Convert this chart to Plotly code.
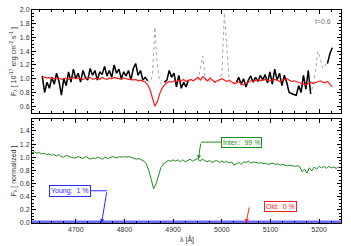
import numpy as np
import plotly.graph_objects as go

# ---------------- data ----------------
obs_flux = [1.04, 0.80, 0.95, 0.86, 1.02, 0.92, 1.08, 0.96, 0.76, 1.00, 0.90, 1.10, 0.95, 1.14, 1.00, 1.08,
            0.95, 1.12, 1.02, 0.98, 1.15, 1.05, 1.12, 0.98, 1.10, 1.06, 1.18, 1.04, 1.12, 1.02, 1.20, 1.08,
            1.14, 1.00, 1.10, 1.04,
            1.12, 0.98, 1.15, 1.22, 1.05, 1.12, 0.98, 1.02, 0.97,
            0.95, 1.05, 1.75, 1.20, 0.95, 0.92, 0.95,
            0.98, 1.12, 1.02, 1.08, 0.88, 1.05, 0.86, 0.95, 0.88, 0.98,
            0.98, 0.95, 1.00, 0.98, 1.15, 1.33, 1.00, 0.94, 0.97, 0.95, 0.96, 0.93, 0.98, 1.10, 1.96, 1.50,
            0.96, 0.92, 0.94,
            0.95, 1.02, 0.92, 1.00, 0.88, 0.98, 1.04, 0.95, 1.02, 0.96, 1.05, 0.98, 1.06, 0.94, 1.10, 0.92,
            1.14, 0.98, 1.08, 0.90, 1.05, 0.95, 0.80, 0.78, 0.77, 0.76, 0.90, 0.80, 1.05, 0.85, 1.12, 0.78,
            0.90, 1.10, 1.40, 1.30, 1.15, 1.20,
            1.22, 1.36, 1.45]

model_flux = [1.03, 1.02, 1.01, 1.02, 1.00, 1.01, 1.00, 1.01, 0.99, 1.00, 1.01, 0.99, 1.00, 1.02, 1.00, 1.01,
              1.00, 0.99, 1.00, 1.01, 1.02, 0.99, 1.00, 1.01, 0.99, 1.02, 1.00, 0.99, 1.01, 1.00, 1.02, 1.01,
              1.00, 0.99, 1.01, 1.00, 0.99, 1.00, 0.98, 0.99, 0.97, 0.98, 0.96, 0.95, 0.91, 0.84, 0.72, 0.60,
              0.66, 0.78, 0.86, 0.91, 0.94, 0.96, 0.95, 0.97, 0.96, 0.98, 0.97, 0.99, 0.96, 0.98, 0.99, 0.97,
              1.00, 1.02, 0.98, 1.03, 1.00, 0.97, 1.01, 0.98, 0.95, 0.97, 0.99, 1.00, 0.98, 0.96, 0.98, 0.95,
              0.93, 0.94, 0.96, 0.92, 0.91, 0.93, 0.95, 0.97, 0.96, 0.98, 0.99, 0.97, 0.98, 0.99, 0.98, 0.97,
              0.98, 0.99, 0.98, 0.96, 0.97, 0.99, 1.00, 0.98, 0.96, 0.97, 0.96, 0.95, 0.93, 0.92, 0.91, 0.93,
              0.95, 0.93, 0.94, 0.96, 0.97, 0.95, 0.94, 0.96, 0.92, 0.88]

masked_ranges = [(4848, 4882), (4932, 5028), (5186, 5217)]

inter_norm = [1.07, 1.08, 1.06, 1.07, 1.05, 1.06, 1.04, 1.05, 1.03, 1.04, 1.02, 1.04, 1.01, 1.00, 1.03, 1.01,
              1.00, 0.99, 0.99, 1.01, 1.00, 0.98, 1.01, 0.99, 0.97, 0.99, 0.98, 1.00, 0.98, 0.97, 1.00, 0.98,
              0.99, 1.01, 1.00, 0.99, 1.01, 1.00, 1.01, 1.00, 1.01, 0.99, 0.98, 0.97, 0.98, 0.96, 0.94, 0.90,
              0.80, 0.66, 0.52, 0.60, 0.74, 0.84, 0.90, 0.93, 0.95, 0.94, 0.96, 0.94, 0.96, 0.93, 0.96, 0.93,
              0.95, 0.97, 0.94, 0.96, 0.98, 0.94, 0.97, 0.95, 0.93, 0.95, 0.92, 0.94, 0.95, 0.92, 0.94, 0.92,
              0.94, 0.91, 0.93, 0.88, 0.90, 0.92, 0.89, 0.93, 0.92, 0.94, 0.91, 0.93, 0.92, 0.91, 0.92, 0.90,
              0.91, 0.89, 0.90, 0.91, 0.89, 0.90, 0.88, 0.89, 0.88, 0.87, 0.88, 0.87, 0.86, 0.87, 0.86, 0.78,
              0.82, 0.76, 0.84, 0.79, 0.85, 0.82, 0.86, 0.84, 0.86, 0.83, 0.86, 0.84, 0.85, 0.83, 0.85, 0.84]

young_wave = [4610, 5245]
young_norm = [0.01, 0.01]
old_wave = [4610, 5245]
old_norm = [0.0, 0.0]

components = ["Young", "Inter.", "Old"]
fractions = [1, 99, 0]

# ---------------- grids ----------------
wave_obs = np.linspace(4631, 5227, len(obs_flux))
wave_norm = np.linspace(4610, 5245, len(inter_norm))
obs_black = [None if any(a <= w <= b for a, b in masked_ranges) else f
             for w, f in zip(wave_obs, obs_flux)]

FONT = "Liberation Sans"
fig = go.Figure()

fig.add_trace(go.Scatter(x=wave_obs, y=obs_flux, mode="lines",
                         line=dict(color="#a8a8a8", width=1, dash="dot"),
                         xaxis="x", yaxis="y", hoverinfo="skip"))
fig.add_trace(go.Scatter(x=wave_obs, y=obs_black, mode="lines",
                         line=dict(color="black", width=1.5),
                         xaxis="x", yaxis="y", connectgaps=False))
fig.add_trace(go.Scatter(x=wave_obs[:len(model_flux)], y=model_flux, mode="lines",
                         line=dict(color="#ff1a1a", width=1.2),
                         xaxis="x", yaxis="y"))

fig.add_trace(go.Scatter(x=wave_norm, y=inter_norm, mode="lines",
                         line=dict(color="#1f8c1f", width=1),
                         xaxis="x2", yaxis="y2"))
fig.add_trace(go.Scatter(x=old_wave, y=old_norm, mode="lines",
                         line=dict(color="#ff3333", width=2),
                         xaxis="x2", yaxis="y2"))
fig.add_trace(go.Scatter(x=young_wave, y=young_norm, mode="lines",
                         line=dict(color="#6b6bff", width=3.5),
                         xaxis="x2", yaxis="y2", cliponaxis=False))

tickfont = dict(family=FONT, size=7, color="#333")
common_x = dict(range=[4610, 5245], showline=True, linecolor="black", linewidth=1, mirror="ticks",
                ticks="inside", ticklen=4, tickcolor="black", dtick=100, tick0=4700,
                minor=dict(ticks="inside", ticklen=2, dtick=25, tickcolor="black"),
                showgrid=False, zeroline=False, tickfont=tickfont)
common_y = dict(showline=True, linecolor="black", linewidth=1, mirror="ticks",
                ticks="inside", ticklen=4, tickcolor="black", dtick=0.2, tickformat=".1f",
                minor=dict(ticks="inside", ticklen=2, dtick=0.05, tickcolor="black"),
                showgrid=False, zeroline=False, tickfont=tickfont)

fig.update_layout(
    width=351, height=246, margin=dict(l=32, r=10, t=6, b=23),
    paper_bgcolor="white", plot_bgcolor="white", showlegend=False,
    font=dict(family=FONT, size=7, color="#333"),
    xaxis=dict(common_x, anchor="y", showticklabels=False, domain=[0, 1]),
    yaxis=dict(common_y, domain=[0.516, 1], range=[0.5, 2.0], tick0=0.6,
               title=dict(text="F<sub>λ</sub> [ 10<sup>-17</sup> erg cm<sup>-2</sup> s<sup>-1</sup> ]",
                          font=dict(family=FONT, size=7, color="#333"), standoff=2)),
    xaxis2=dict(common_x, anchor="y2", domain=[0, 1]),
    yaxis2=dict(common_y, domain=[0, 0.488], range=[0, 1.58], tick0=0,
                title=dict(text="F<sub>λ</sub> [ normalized ]",
                           font=dict(family=FONT, size=7, color="#333"), standoff=2)),
)

# x-axis title
fig.add_annotation(x=0.5, y=0, xref="paper", yref="paper", yanchor="top", yshift=-10,
                   text="λ [Å]", showarrow=False, font=dict(family=FONT, size=7, color="#333"))

# t label
fig.add_annotation(x=5207, y=1.84, xref="x", yref="y", text="t=0.6", showarrow=False,
                   font=dict(family=FONT, size=7, color="#777"))

# component labels (box, connector, arrow)
specs = [
    (0, "#2b2bff", (4689, 0.49), 4729, (4764, 0.49), (4753, 0.0)),
    (1, "#1f8c1f", (5041, 1.23), 4998, (4957, 1.23), (4952, 0.97)),
    (2, "#ff2020", (5120, 0.25), None, (5057, 0.26), (5050, 0.0)),
]
for idx, col, box, cstart, bend, tip in specs:
    fig.add_annotation(x=box[0], y=box[1], xref="x2", yref="y2",
                       text=f"{components[idx]}:  {fractions[idx]} %", showarrow=False,
                       font=dict(family=FONT, size=7, color=col), bgcolor="white",
                       bordercolor=col, borderwidth=1, borderpad=1)
    if cstart is not None:
        fig.add_shape(type="line", xref="x2", yref="y2", x0=cstart, y0=bend[1], x1=bend[0], y1=bend[1],
                      line=dict(color=col, width=1))
    fig.add_annotation(x=tip[0], y=tip[1], ax=bend[0], ay=bend[1], xref="x2", yref="y2",
                       axref="x2", ayref="y2", text="", showarrow=True, arrowhead=2,
                       arrowsize=0.8, arrowwidth=1, arrowcolor=col)

fig.write_html("out.html", config={"displayModeBar": False},
               post_script="document.body.style.margin='0';")
